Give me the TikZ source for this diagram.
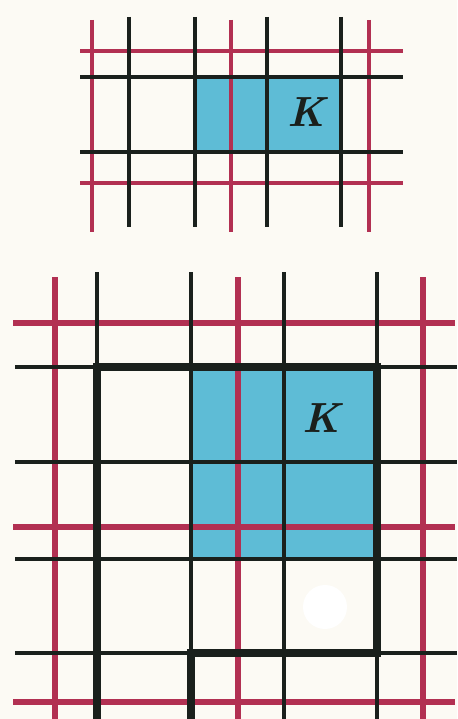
\documentclass[tikz,border=0pt]{standalone}
\usepackage{xcolor}
\usepackage{tikz}
\definecolor{paper}{RGB}{252,250,244}
\definecolor{gridred}{RGB}{178,48,82}
\definecolor{gridblack}{RGB}{26,32,28}
\definecolor{cellblue}{RGB}{94,188,214}

\begin{document}
\begin{tikzpicture}[x=0.02cm, y=-0.02cm,
    redline/.style={draw=gridred, line width=3pt},
    blackline/.style={draw=gridblack, line width=2.3pt},
    boldline/.style={draw=gridblack, line width=4.2pt, line join=miter},
    cell/.style={fill=cellblue, draw=none},
    label/.style={font=\fontsize{24}{24}\selectfont\bfseries\itshape, text=gridblack}]
    \fill[paper] (0,0) rectangle (457,719);
    \useasboundingbox (0,0) rectangle (457,719);

    % Small grid
    \fill[cell] (195,77) rectangle (341,152);
    \foreach \y in {51,183} \draw[redline, line width=2.6pt] (80,\y) -- (403,\y);
    \foreach \x in {92,231,369} \draw[redline, line width=2.6pt] (\x,20) -- (\x,232);
    \foreach \y in {77,152} \draw[blackline] (80,\y) -- (403,\y);
    \foreach \x in {129,195,267,341} \draw[blackline] (\x,17) -- (\x,227);
    \node (ksmall) [label] at (306,112) {K};

    % Large grid
    \fill[cell] (191,367) rectangle (377,559);
    \foreach \y in {323,527,702} \draw[redline] (13,\y) -- (455,\y);
    \foreach \x in {55,238,423} \draw[redline] (\x,277) -- (\x,719);
    \foreach \y in {367,462,559,653} \draw[blackline] (15,\y) -- (457,\y);
    \foreach \x in {97,191,284,377} \draw[blackline] (\x,272) -- (\x,719);
    \draw[boldline] (191,719) -- (191,653) -- (377,653) -- (377,367) -- (97,367) -- (97,719);
    \node (klarge) [label] at (321,418) {K};

    % Blank spot
    \fill[white] (325,607) circle (22);
\end{tikzpicture}
\end{document}
